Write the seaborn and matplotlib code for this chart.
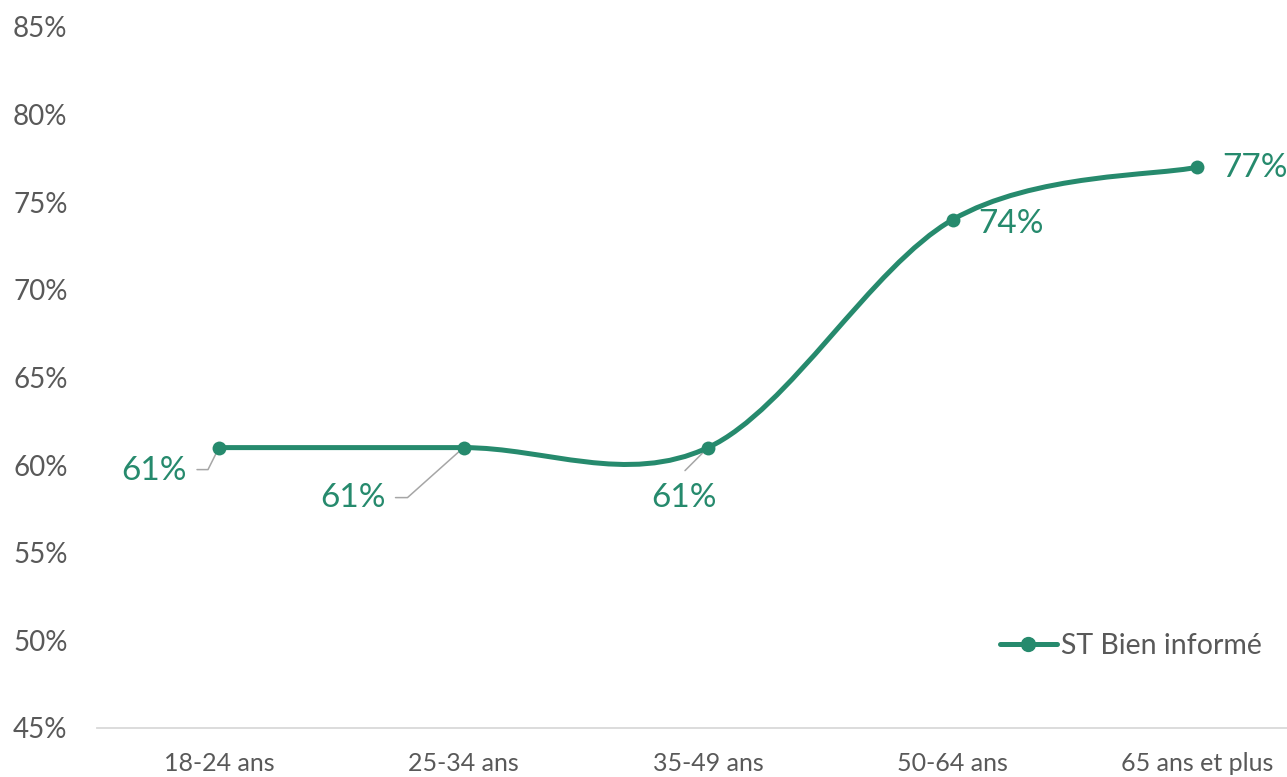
import numpy as np
import pandas as pd
import matplotlib
matplotlib.use("Agg")
import matplotlib.pyplot as plt
import seaborn as sns
from matplotlib.path import Path
from matplotlib.patches import PathPatch
from matplotlib.lines import Line2D
from matplotlib.transforms import Affine2D, ScaledTranslation

categories = ["18-24 ans", "25-34 ans", "35-49 ans", "50-64 ans", "65 ans et plus"]
values = [61, 61, 61, 74, 77]
labels = ["61%", "61%", "61%", "74%", "77%"]
series_name = "ST Bien informé"
y_ticks = [45, 50, 55, 60, 65, 70, 75, 80, 85]

green = "#268A6D"
grey_text = "#595959"

sns.set_style("white")
plt.rcParams["font.family"] = ["Lato", "DejaVu Sans"]

df = pd.DataFrame({"x": np.arange(len(categories)), "y": values})

fig = plt.figure(figsize=(12.87, 7.77), dpi=100)
ax = fig.add_axes([96.75 / 1287, 1 - 728 / 777, 5 * 244.5 / 1287, 701 / 777])

# Excel style smoothed line (cubic bezier through the points)
pts = df[["x", "y"]].to_numpy(dtype=float)
verts = [pts[0]]
codes = [Path.MOVETO]
n = len(pts)
for i in range(n - 1):
    p0 = pts[max(i - 1, 0)]
    p1 = pts[i]
    p2 = pts[i + 1]
    p3 = pts[min(i + 2, n - 1)]
    verts += [p1 + (p2 - p0) / 6, p2 - (p3 - p1) / 6, p2]
    codes += [Path.CURVE4] * 3
ax.add_patch(PathPatch(Path(verts, codes), facecolor="none", edgecolor=green,
                       lw=3.6, capstyle="round", joinstyle="round", zorder=3))

sns.scatterplot(data=df, x="x", y="y", ax=ax, color=green, s=100,
                edgecolor=green, linewidth=0, zorder=4, legend=False)

# data labels, offsets in pixels from each marker
px = 0.72
label_pos = [(-32, -23, "right"), (-78, -50, "right"), (-24, -50, "center"),
             (26, -4, "left"), (25, -1, "left")]
leaders = [[(-22, -22), (-11, -22), (0, 0)],
           [(-68, -50), (-56, -50), (0, 0)],
           [(-23, -23), (0, 0)],
           None, None]
for i, (dx, dy, ha) in enumerate(label_pos):
    ax.annotate(labels[i], xy=(i, values[i]), xytext=(dx * px, dy * px),
                textcoords="offset points", ha=ha, va="center",
                fontsize=24, color=green, zorder=5)
    if leaders[i]:
        tr = Affine2D().scale(fig.dpi / 72) + ScaledTranslation(i, values[i], ax.transData)
        lx = [p[0] * px for p in leaders[i]]
        ly = [p[1] * px for p in leaders[i]]
        ax.add_line(Line2D(lx, ly, transform=tr, color="#A6A6A6", lw=1.1, zorder=2))

ax.set_xlim(-0.5, 4.5)
ax.set_ylim(45, 85)
ax.set_xticks(range(len(categories)))
ax.set_xticklabels(categories)
ax.set_yticks(y_ticks)
ax.set_yticklabels([f"{t}%" for t in y_ticks])
ax.set_xlabel("")
ax.set_ylabel("")
ax.tick_params(axis="x", length=0, pad=17, labelsize=18, labelcolor=grey_text)
ax.tick_params(axis="y", length=0, pad=21, labelsize=20, labelcolor=grey_text)
for side in ["top", "right", "left"]:
    ax.spines[side].set_visible(False)
ax.spines["bottom"].set_color("#D9D9D9")
ax.spines["bottom"].set_linewidth(1.3)
ax.grid(False)

handle = Line2D([0], [0], color=green, lw=3.6, marker="o", markersize=10,
                solid_capstyle="round")
fig.legend([handle], [series_name], loc="center left",
           bbox_to_anchor=(1000 / 1287, 1 - 646 / 777), frameon=False,
           fontsize=20.5, labelcolor=grey_text, handlelength=2.0,
           handletextpad=0.15, borderpad=0, borderaxespad=0)

fig.savefig("out.png", dpi=100)
